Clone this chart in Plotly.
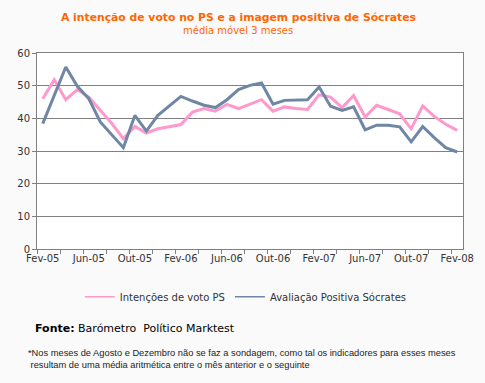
import plotly.graph_objects as go

months = ["Jan", "Fev", "Mar", "Abr", "Mai", "Jun", "Jul", "Ago", "Set", "Out", "Nov", "Dez"]
categories = []
for yr in range(5, 9):
    for m in months:
        categories.append(f"{m}-{yr:02d}")
categories = categories[1:38]  # Fev-05 .. Fev-08

intencoes_ps = [46.0, 51.8, 45.7, 48.8, 46.5, 42.4, 38.4, 33.8, 37.5, 35.5,
                36.8, 37.4, 38.1, 41.9, 43.0, 42.2, 44.3, 43.0, 44.3, 45.7,
                42.2, 43.5, 43.0, 42.7, 47.2, 46.5, 43.3, 47.0, 40.4, 44.0,
                42.7, 41.4, 36.8, 43.8, 40.6, 38.2, 36.3]
avaliacao_socrates = [38.4, 47.0, 55.7, 49.8, 46.0, 38.9, 34.8, 31.0, 40.9, 36.1,
                      40.9, 43.7, 46.7, 45.3, 44.0, 43.3, 45.7, 48.8, 50.1, 50.8,
                      44.3, 45.5, 45.5, 45.7, 49.6, 43.7, 42.4, 43.5, 36.5, 37.9,
                      37.9, 37.4, 32.8, 37.5, 34.1, 31.0, 29.7]
series_names = ["Intenções de voto PS", "Avaliação Positiva Sócrates"]
series_colors = ["#FF99CC", "#6F87A5"]
y_ticks = [0, 10, 20, 30, 40, 50, 60]

x = list(range(len(categories)))
label_idx = list(range(0, len(categories), 4))

fig = go.Figure()
for vals, name, col in zip([intencoes_ps, avaliacao_socrates], series_names, series_colors):
    fig.add_trace(go.Scatter(x=x, y=vals, mode="lines", name=name, showlegend=False,
                             line=dict(color=col, width=3)))
# legend entries with thin lines, as in the reference
for name, col in zip(series_names, series_colors):
    fig.add_trace(go.Scatter(x=[None], y=[None], mode="lines", name=name, showlegend=True,
                             line=dict(color=col, width=1.5)))

font = "DejaVu Sans, Verdana, sans-serif"
fig.update_layout(
    width=485, height=383,
    margin=dict(l=37, r=22, t=53, b=134, autoexpand=False),
    paper_bgcolor="#FAFAFA", plot_bgcolor="#FFFFFF",
    font=dict(family=font, size=10, color="#333333"),
    showlegend=True,
    legend=dict(orientation="h", x=0.49, xanchor="center", y=-0.17, yanchor="top",
                font=dict(size=10, color="#333333"), bgcolor="rgba(0,0,0,0)",
                itemwidth=30, tracegroupgap=0),
    xaxis=dict(range=[-0.5, len(categories) - 0.5], tickvals=label_idx,
               ticktext=[categories[i] for i in label_idx], ticks="", showgrid=False,
               showline=True, linecolor="#808080", linewidth=1, mirror=True, zeroline=False,
               automargin=False, tickfont=dict(size=10, color="#333333"),
               minor=dict(tickvals=[i - 0.5 for i in range(0, len(categories) + 1, 2)],
                          ticks="outside", ticklen=4, tickcolor="#808080", showgrid=False)),
    yaxis=dict(range=[0, 60], tickvals=y_ticks, showgrid=True, gridcolor="#808080", gridwidth=1,
               showline=True, linecolor="#808080", linewidth=1, mirror=True, zeroline=False,
               ticks="outside", ticklen=4, tickcolor="#808080", automargin=False,
               tickfont=dict(size=10, color="#333333")),
)

fig.add_annotation(text="<b>A intenção de voto no PS e a imagem positiva de Sócrates</b>",
                   xref="paper", yref="paper", x=0.472, y=1.0, yshift=36, xanchor="center", yanchor="middle",
                   showarrow=False, font=dict(family=font, size=10.8, color="#FF6600"))
fig.add_annotation(text="média móvel 3 meses",
                   xref="paper", yref="paper", x=0.472, y=1.0, yshift=23, xanchor="center", yanchor="middle",
                   showarrow=False, font=dict(family=font, size=10, color="#FF6600"))
fig.add_annotation(text="<b>Fonte:</b> Barómetro  Político Marktest",
                   xref="paper", yref="paper", x=-0.01, y=0, yshift=-79, xanchor="left", yanchor="middle",
                   showarrow=False, font=dict(family=font, size=11, color="#000000"))
fig.add_annotation(text="*Nos meses de Agosto e Dezembro não se faz a sondagem, como tal os indicadores para esses meses<br> resultam de uma média aritmética entre o mês anterior e o seguinte",
                   xref="paper", yref="paper", x=-0.025, y=0, yshift=-110, xanchor="left", yanchor="middle",
                   align="left", showarrow=False,
                   font=dict(family="Liberation Sans, sans-serif", size=9.3, color="#222222"))

fig.write_html("out.html", config={"displayModeBar": False},
               post_script="document.body.style.margin='0';document.body.style.background='#FAFAFA';")
